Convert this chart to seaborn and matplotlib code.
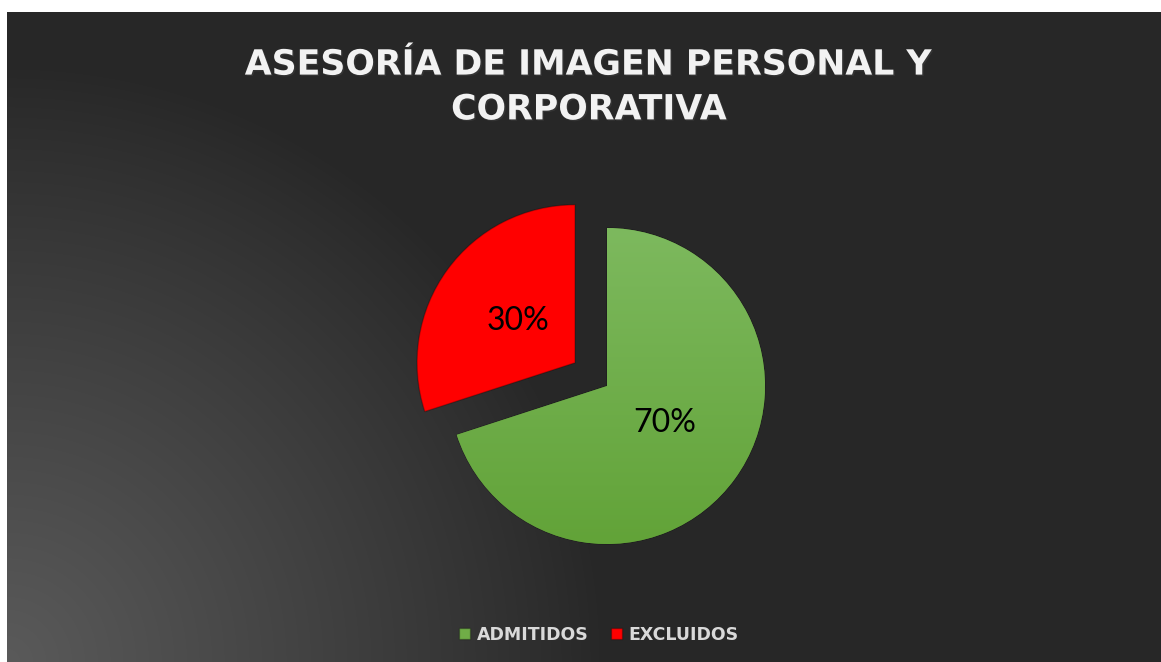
import numpy as np
import matplotlib.pyplot as plt
import matplotlib.patheffects as pe
import seaborn as sns

sns.set_theme(style='dark')
plt.rcParams['font.family'] = ['Lato', 'DejaVu Sans']

# datos del grafico
titulo = 'ASESORÍA DE IMAGEN PERSONAL Y\nCORPORATIVA'
categorias = ['ADMITIDOS', 'EXCLUIDOS']
porcentajes = [70, 30]
colores = ['#70AD47', '#FF0000']

W, H = 1161, 662
fig = plt.figure(figsize=(W / 100, H / 100), dpi=100, facecolor='white')
ax = fig.add_axes([0, 0, 1, 1])

# fondo oscuro con brillo en la esquina inferior izquierda
x0, top = 7, 650
xx, yy = np.meshgrid(np.arange(x0, W) + 0.5, np.arange(0, top) + 0.5)
d = np.hypot(xx - x0, yy)
v = 39 + 51 * np.clip(1 - d / 600, 0, 1) ** 0.9
fondo = np.dstack([v, v, v]) / 255
ax.imshow(fondo, extent=(x0, W, 0, top), origin='lower', zorder=0)

# pastel (explode va en unidades de datos)
cx, cy, r = 607, 276, 158
wedges, texts, autotexts = ax.pie(
    porcentajes, labels=categorias, labeldistance=None, colors=colores,
    startangle=90, counterclock=False, explode=[0, 0.25 * r],
    center=(cx, cy), radius=r, autopct='%.0f%%', pctdistance=0.45,
    wedgeprops=dict(linewidth=1.0, edgecolor=(0, 0, 0, 0.25)),
    textprops=dict(fontsize=23, color='black'))

# degradado vertical del sector verde
g = np.linspace(0, 1, 256)[:, None]
top_c = np.array([0x7D, 0xB9, 0x5E]) / 255
bot_c = np.array([0x62, 0xA3, 0x38]) / 255
grad = (bot_c + (top_c - bot_c) * g)[:, None, :].repeat(2, axis=1)
im = ax.imshow(grad, extent=(cx - r, cx + r, cy - r, cy + r), origin='lower',
               zorder=1.5, interpolation='bilinear')
im.set_clip_path(wedges[0])

for t in autotexts:
    t.set_zorder(3)
# el 70% va un poco mas arriba en el original
px, py = autotexts[0].get_position()
autotexts[0].set_position((px, py + 5))

ax.set_xlim(0, W)
ax.set_ylim(0, H)
ax.set_aspect('auto')
ax.axis('off')

fig.text(589 / W, 1 - 87 / H, titulo, ha='center', va='center',
         family=['DejaVu Sans'], fontsize=25, fontweight='bold',
         color='#f2f2f2', linespacing=1.4,
         path_effects=[pe.withSimplePatchShadow(offset=(1, -1), alpha=0.4)])

leg = fig.legend(wedges, categorias, loc='center',
                 bbox_to_anchor=(599 / W, 1 - 635 / H),
                 ncol=2, frameon=False, labelcolor='#d9d9d9',
                 prop=dict(family=['DejaVu Sans'], size=12.5, weight='bold'),
                 handlelength=0.6, handleheight=0.6, handletextpad=0.4,
                 columnspacing=1.3)

fig.savefig('out.png', dpi=100, facecolor=fig.get_facecolor())
